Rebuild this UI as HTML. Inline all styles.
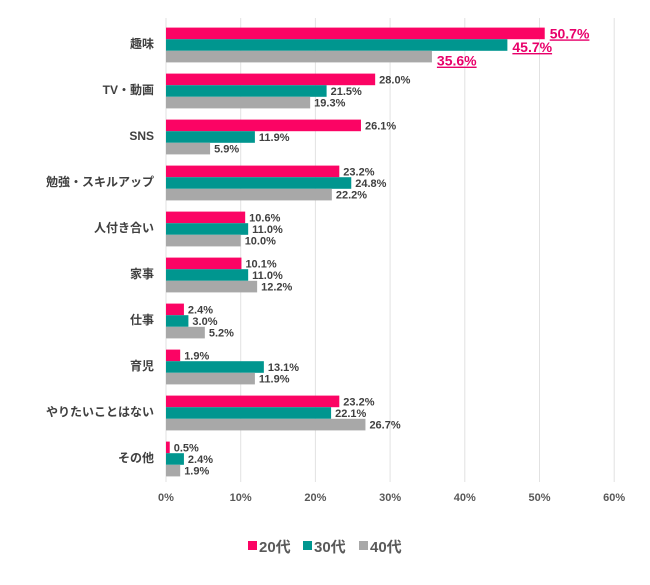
<!DOCTYPE html>
<html><head><meta charset="utf-8"><style>
body{margin:0;background:#fff;font-family:"Liberation Sans","Noto Sans CJK JP",sans-serif;}
svg text{font-family:"Liberation Sans","Noto Sans CJK JP",sans-serif;}
</style></head><body>
<svg id="chart" width="650" height="580" xmlns="http://www.w3.org/2000/svg"></svg>
<script>
const categories=["趣味","TV・動画","SNS","勉強・スキルアップ","人付き合い","家事","仕事","育児","やりたいことはない","その他"];
const series20=[50.7,28.0,26.1,23.2,10.6,10.1,2.4,1.9,23.2,0.5];
const series30=[45.7,21.5,11.9,24.8,11.0,11.0,3.0,13.1,22.1,2.4];
const series40=[35.6,19.3,5.9,22.2,10.0,12.2,5.2,11.9,26.7,1.9];
const seriesNames=["20代","30代","40代"];
const ticks=[0,10,20,30,40,50,60];
const tickLabels=["0%","10%","20%","30%","40%","50%","60%"];
const colors=["#fb0464","#00968f","#a8a8a8"];
const svgEl=document.getElementById('chart');
const NS="http://www.w3.org/2000/svg";
const x0=166,pxPer=7.47,plotTop=22,band=46,barH=11.6;
const xs=v=>x0+v*pxPer;
function mk(t,a,p){const e=document.createElementNS(NS,t);for(const k in a)e.setAttribute(k,a[k]);(p||svgEl).appendChild(e);return e;}
ticks.forEach((t,i)=>{
 const g=mk('line',{x1:xs(t),x2:xs(t),y1:plotTop-4,y2:plotTop+band*categories.length,stroke:'#e2e2e2','stroke-width':1});
 
 
 const l=mk('text',{x:xs(t),y:501,'text-anchor':'middle','font-size':11,'font-weight':'bold',fill:'#595959'});
 l.textContent=tickLabels[i];
 
 
});
const all=[series20,series30,series40];
categories.forEach((c,i)=>{
 const cy=plotTop+band*i+band/2;
 const cl=mk('text',{x:154,y:cy+3,'text-anchor':'end','font-size':12,'font-weight':'bold',fill:'#404040'});
 cl.textContent=c;
 
 
 all.forEach((s,j)=>{
  const y=cy-1.5*barH+j*barH;
  const r=mk('rect',{x:x0,y:y,width:Math.max(0,xs(s[i])-x0),height:barH,fill:colors[j]});
  
  
  let t;
  if(i===0){
   t=mk('text',{x:xs(s[i])+5,y:y+barH/2+5+j*2,'font-size':14,'font-weight':'bold',fill:'#e8006a','text-decoration':'underline'});
  } else {
   t=mk('text',{x:xs(s[i])+4,y:y+barH/2+4,'font-size':11,'font-weight':'bold',fill:'#404040'});
  }
  t.textContent=s[i].toFixed(1)+'%';
  
  
 });
});
const lx=[248,303,359];
seriesNames.forEach((n,j)=>{
 const r=mk('rect',{x:lx[j],y:541,width:9,height:9,fill:colors[j]});
 
 
 const t=mk('text',{x:lx[j]+11,y:552,'font-size':15,'font-weight':'bold',fill:'#595959'});
 t.textContent=n;
 
 
});
</script>
</body></html>
